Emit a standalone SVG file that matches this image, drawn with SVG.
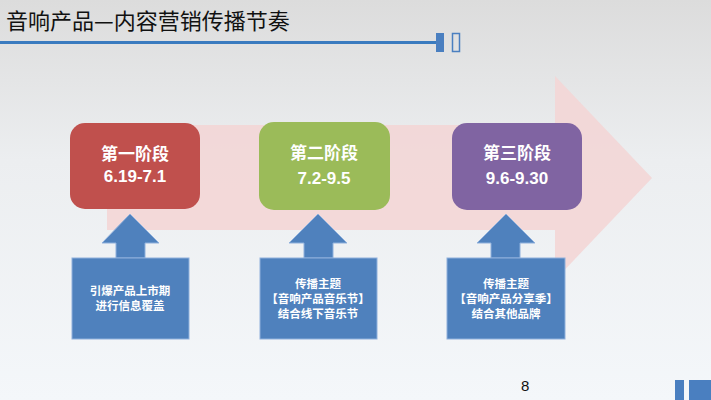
<svg xmlns="http://www.w3.org/2000/svg" width="711" height="400" viewBox="0 0 711 400">
<defs>
<linearGradient id="bg" x1="0" y1="0" x2="0" y2="1"><stop offset="0" stop-color="#dcdcdc"/><stop offset="0.4" stop-color="#eceef0"/><stop offset="1" stop-color="#f4f7fa"/></linearGradient>
<style>
.stage{font-family:"Liberation Sans","Noto Sans CJK SC",sans-serif;font-weight:bold;fill:#fff;font-size:17px;text-anchor:middle}
.note{font-family:"Noto Sans CJK SC",sans-serif;font-weight:bold;fill:#fff;font-size:11.5px;text-anchor:middle}
.up{fill:#4f81bd;stroke:#8fb0dc;stroke-width:1}
</style>
</defs>
<rect width="711" height="400" fill="url(#bg)"/>
<text x="6" y="29" font-family="Noto Sans CJK SC,sans-serif" font-size="22" fill="#111">音响产品—内容营销传播节奏</text>
<rect x="0" y="41" width="436" height="3" fill="#3a7bbf"/>
<rect x="436" y="33" width="8" height="19" fill="#4a7fc0"/>
<rect x="452.5" y="33.5" width="7" height="18" fill="none" stroke="#4a7fc0" stroke-width="1.5"/>
<polygon points="107,125 555,125 555,76 652,178 555,280 555,230 107,230" fill="#f3d6d6" opacity="0.9"/>
<g id="n1"><rect x="70" y="123" width="130" height="86" rx="15" fill="#c0504d"/><text class="stage" x="135" y="160">第一阶段</text><text class="stage" x="135" y="182">6.19-7.1</text></g>
<g id="n2"><rect x="259" y="122" width="131" height="88" rx="15" fill="#9bbb59"/><text class="stage" x="324" y="159">第二阶段</text><text class="stage" x="324" y="184">7.2-9.5</text></g>
<g id="n3"><rect x="452" y="123" width="130" height="87" rx="15" fill="#8064a2"/><text class="stage" x="517" y="159">第三阶段</text><text class="stage" x="517" y="184">9.6-9.30</text></g>
<g id="connectors">
<polygon class="up" points="116,258 116,243 102,243 130,214 159,243 145,243 145,258"/>
<polygon class="up" points="304,258 304,243 289,243 318,214 347,243 333,243 333,258"/>
<polygon class="up" points="491,258 491,243 477,243 506,214 535,243 520,243 520,258"/>
</g>
<g id="b1"><rect class="up" x="72" y="258" width="117" height="81"/><text class="note" x="130" y="295">引爆产品上市期</text><text class="note" x="130" y="310">进行信息覆盖</text></g>
<g id="b2"><rect class="up" x="260" y="258" width="117" height="81"/><text class="note" x="318" y="288">传播主题</text><text class="note" x="318" y="303">【音响产品音乐节】</text><text class="note" x="318" y="318">结合线下音乐节</text></g>
<g id="b3"><rect class="up" x="447" y="258" width="118" height="81"/><text class="note" x="506" y="288">传播主题</text><text class="note" x="506" y="303">【音响产品分享季】</text><text class="note" x="506" y="318">结合其他品牌</text></g>
<text x="521" y="391" font-family="Liberation Sans,sans-serif" font-size="15" fill="#111">8</text>
<rect x="675" y="380" width="9" height="20" fill="#4a7fc0"/>
<rect x="689" y="380" width="22" height="20" fill="#4a7fc0"/>
</svg>
